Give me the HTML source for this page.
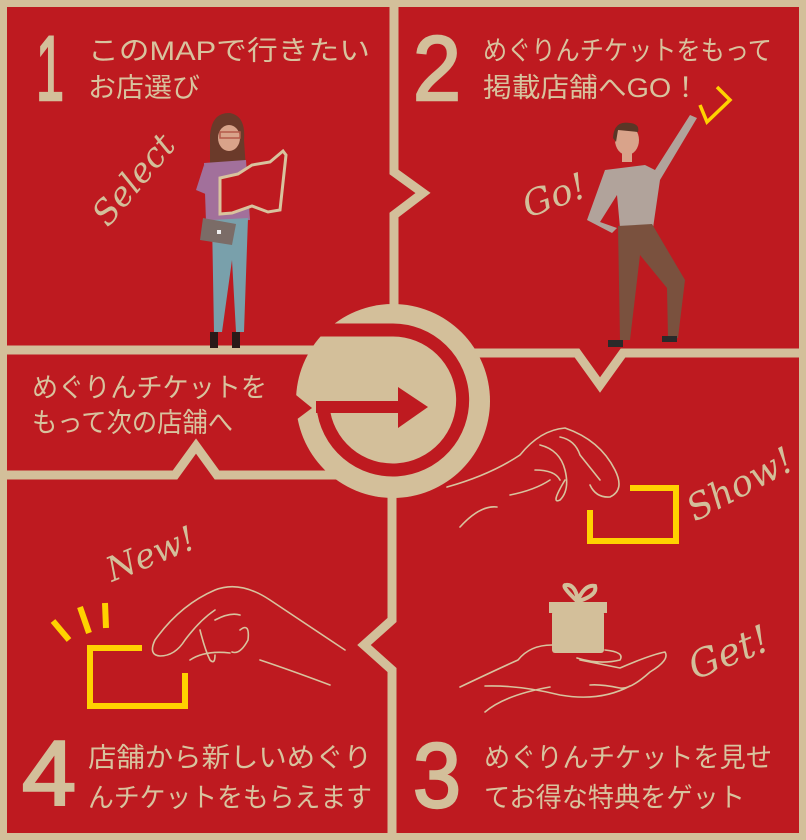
<!DOCTYPE html>
<html><head><meta charset="utf-8"><style>
html,body{margin:0;padding:0;background:#d3bf9a;}
svg{display:block}
.t{font-family:"Liberation Sans","Noto Sans CJK JP",sans-serif;fill:#d8c39e;font-size:27px;}
.n{font-family:"Liberation Sans",sans-serif;fill:#d3bf9a;stroke:#d3bf9a;stroke-width:2.5;font-size:92px;}
.sc{font-family:"DejaVu Serif","Liberation Serif",serif;font-style:italic;fill:#d3bf9a;}
.h{fill:none;stroke:#d8c39e;stroke-width:1.6;stroke-linecap:round;stroke-linejoin:round}
</style></head><body>
<svg width="806" height="840" viewBox="0 0 806 840" xmlns="http://www.w3.org/2000/svg">
<rect width="806" height="840" fill="#d3bf9a"/>
<rect x="7" y="7" width="792" height="826" fill="#be1a20"/>
<g fill="none" stroke="#d3bf9a" stroke-width="9" stroke-linejoin="miter">
<polyline points="394,0 394,172 423,193 394,215 394,350"/>
<polyline points="0,350 394,350"/>
<polyline points="394,353 577,353 600,385 623,353 806,353"/>
<polyline points="0,475 175,475 196,446 217,475 394,475"/>
<polyline points="392,475 392,620 364,645 392,670 392,840"/>
</g>
<circle cx="393" cy="401" r="97" fill="#d3bf9a"/>
<polygon points="296,395 312,408 296,420" fill="#be1a20"/>
<path d="M320 330 L393 330 A70 70 0 1 1 323 407" fill="none" stroke="#be1a20" stroke-width="13"/>
<rect x="316" y="401" width="84" height="12" fill="#be1a20"/>
<polygon points="398,387 428,407 398,428" fill="#be1a20"/>
<text class="n" x="36" y="100" textLength="28" lengthAdjust="spacingAndGlyphs">1</text>
<text class="t" x="88" y="60" textLength="282" lengthAdjust="spacingAndGlyphs">このMAPで行きたい</text>
<text class="t" x="88" y="97" textLength="112" lengthAdjust="spacingAndGlyphs">お店選び</text>
<text class="n" x="413" y="100" textLength="48" lengthAdjust="spacingAndGlyphs">2</text>
<text class="t" x="483" y="60" textLength="289" lengthAdjust="spacingAndGlyphs">めぐりんチケットをもって</text>
<text class="t" x="483" y="97" textLength="217" lengthAdjust="spacingAndGlyphs">掲載店舗へGO！</text>
<text class="t" x="32" y="397" textLength="235" lengthAdjust="spacingAndGlyphs">めぐりんチケットを</text>
<text class="t" x="32" y="432" textLength="201" lengthAdjust="spacingAndGlyphs">もって次の店舗へ</text>
<text class="n" x="22" y="805" textLength="54" lengthAdjust="spacingAndGlyphs">4</text>
<text class="t" x="88" y="767" textLength="284" lengthAdjust="spacingAndGlyphs">店舗から新しいめぐり</text>
<text class="t" x="88" y="807" textLength="284" lengthAdjust="spacingAndGlyphs">んチケットをもらえます</text>
<text class="n" x="413" y="807" textLength="48" lengthAdjust="spacingAndGlyphs">3</text>
<text class="t" x="484" y="767" textLength="288" lengthAdjust="spacingAndGlyphs">めぐりんチケットを見せ</text>
<text class="t" x="484" y="807" textLength="261" lengthAdjust="spacingAndGlyphs">てお得な特典をゲット</text>
<text class="sc" font-size="34" transform="translate(108,228) rotate(-50)">Select</text>
<text class="sc" font-size="36" transform="translate(528,218) rotate(-20)">Go!</text>
<text class="sc" font-size="36" transform="translate(695,522) rotate(-28)">Show!</text>
<text class="sc" font-size="38" transform="translate(695,680) rotate(-22)">Get!</text>
<text class="sc" font-size="34" transform="translate(112,582) rotate(-22)">New!</text>
<g>
<path d="M210 135 Q212 112 230 113 Q246 116 244 140 L246 170 L210 172 Z" fill="#6b3a2a"/>
<ellipse cx="229" cy="138" rx="11" ry="13" fill="#d9a38a"/>
<rect x="220" y="132" width="20" height="6" fill="none" stroke="#b45a4a" stroke-width="1.5"/>
<path d="M204 163 L246 160 L250 220 L206 222 Z" fill="#a2709b"/>
<path d="M204 165 L196 190 L220 200 L222 192 L208 186 Z" fill="#a2709b"/>
<path d="M212 220 L248 218 L244 332 L236 332 L232 260 L222 332 L214 332 Z" fill="#79a0ab"/>
<rect x="210" y="332" width="8" height="16" fill="#2a1a18"/><rect x="232" y="332" width="8" height="16" fill="#2a1a18"/>
<path d="M203 218 L236 224 L232 245 L200 240 Z" fill="#7b6c67"/>
<rect x="217" y="230" width="4" height="4" fill="#eee"/>
<path d="M220 178 L238 174 L252 165 L270 162 L283 151 L286 155 L280 210 L268 212 L252 206 L232 213 L220 214 L220 178 Z" fill="#be1a20" stroke="#d8c39e" stroke-width="3"/>
</g>
<g>
<ellipse cx="627" cy="140" rx="12" ry="15" fill="#d9a38a"/>
<path d="M613 138 Q614 120 630 123 Q640 124 638 132 L618 130 L616 142 Z" fill="#5a3626"/>
<rect x="622" y="152" width="10" height="10" fill="#d9a38a"/>
<path d="M605 170 L645 165 L655 170 L690 115 L697 118 L660 180 L653 228 L620 228 L617 195 L600 222 L617 228 L612 233 L587 220 Z" fill="#b1a39b"/>
<path d="M618 226 L652 224 L685 280 L678 338 L668 338 L667 288 L640 255 L630 340 L620 340 Z" fill="#7a513e"/>
<rect x="608" y="340" width="15" height="7" fill="#2a2a2a"/><rect x="662" y="336" width="15" height="6" fill="#2a2a2a"/>
<polyline points="700,105 707,122 730,100 717,87" fill="none" stroke="#ffd200" stroke-width="3.5"/>
</g>
<path class="h" d="M447 487 Q490 475 520 455 Q540 430 565 428 Q600 440 615 470 Q625 490 610 497 Q596 498 590 485 M560 437 Q575 440 580 455 L600 480 M540 445 Q560 450 565 470 Q570 490 560 500 Q550 505 565 480 M535 470 Q555 470 560 480 M510 495 Q535 490 550 480 M497 507 Q480 505 460 527"/>
<polyline points="630,488 676,488 676,541 590,541 590,510" fill="none" stroke="#ffd200" stroke-width="6"/>
<rect x="549" y="602" width="58" height="11" fill="#d3bf9a"/>
<rect x="552" y="611" width="52" height="42" rx="3" fill="#d3bf9a"/>
<path d="M577 601 Q560 585 566 585 Q575 584 578 600 Q585 584 595 586 Q598 595 579 601" fill="none" stroke="#d3bf9a" stroke-width="4"/>
<path class="h" d="M460 687 Q500 668 518 660 Q530 645 552 645 M605 650 Q625 652 620 660 Q600 665 577 658 M580 660 L620 668 Q650 655 665 652 Q670 660 650 672 Q630 690 620 688 M590 685 Q600 684 620 688 M485 686 Q520 685 560 695 Q600 702 630 686 M485 712 Q505 695 550 687"/>
<path class="h" d="M345 650 Q300 620 270 600 Q240 580 215 590 Q180 605 155 640 Q148 655 160 656 Q175 656 185 640 Q200 620 215 610 M190 660 Q205 650 230 653 M260 660 Q290 670 330 685 M215 620 Q230 612 240 615 M240 630 Q250 622 248 640 Q240 655 232 652 M200 630 Q205 650 210 660 Q215 665 215 655"/>
<polyline points="142,648 90,648 90,706 185,706 185,673" fill="none" stroke="#ffd200" stroke-width="6"/>
<g stroke="#ffd200" stroke-width="6"><line x1="53" y1="621" x2="69" y2="640"/><line x1="80" y1="607" x2="89" y2="633"/><line x1="105" y1="603" x2="106" y2="628"/></g>
</svg>
</body></html>
